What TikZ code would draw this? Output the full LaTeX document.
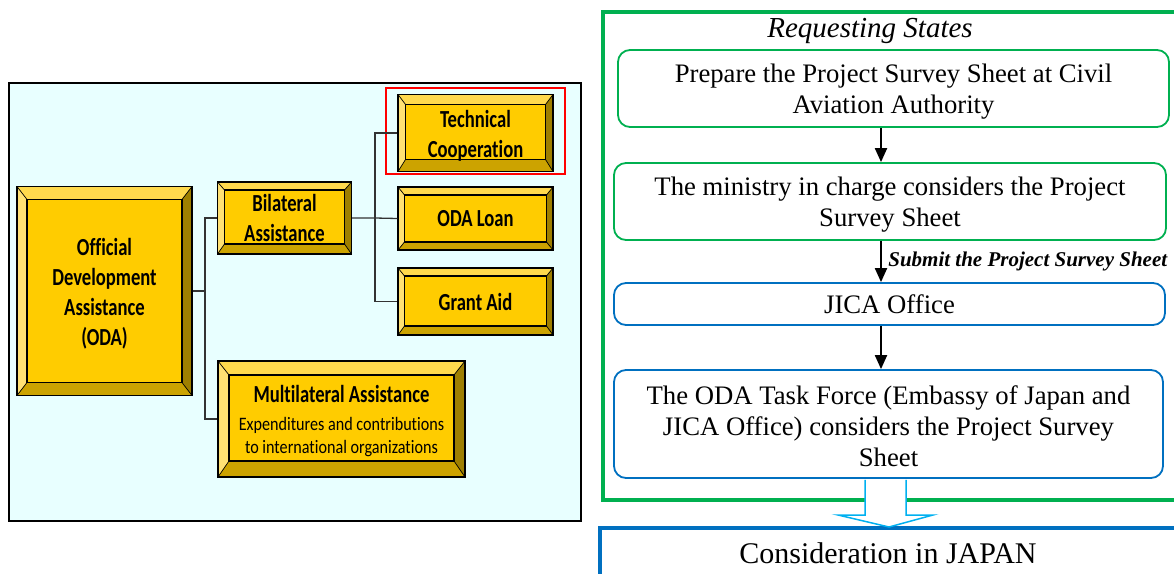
\documentclass[tikz,border=0pt]{standalone}
\usepackage{fontspec}
\setmainfont{Liberation Serif}
\newfontfamily\calib[FakeStretch=0.76,Ligatures=NoCommon]{Carlito}
\newfontfamily\calibs[FakeStretch=0.85,Ligatures=NoCommon]{Carlito}
\usetikzlibrary{arrows.meta,calc}

\definecolor{face}{HTML}{FFCC00}
\definecolor{btop}{HTML}{FFD94D}
\definecolor{bleft}{HTML}{FFE173}
\definecolor{bbot}{HTML}{CCA300}
\definecolor{bright}{HTML}{9E7F00}
\definecolor{panel}{HTML}{E8FFFF}
\definecolor{ogreen}{HTML}{00B050}
\definecolor{oblue}{HTML}{0070C0}
\definecolor{lblue}{HTML}{00B0F0}

\newcommand\topstrut{\rule{0pt}{24pt}}
\newcommand\bstrut{\rule{0pt}{22pt}}

\tikzset{
  bvs/.store in=\bvs, bvt/.store in=\bvt, bvb/.store in=\bvb,
  bvs=8pt, bvt=10pt, bvb=12pt,
  bevelbox/.style={draw=black, line width=1.2pt, fill=face, inner sep=0pt, align=center,
    font=\calib\bfseries\fontsize{24.5}{30}\selectfont,
    path picture={
      \path (path picture bounding box.north west) coordinate (pNW)
            (path picture bounding box.north east) coordinate (pNE)
            (path picture bounding box.south west) coordinate (pSW)
            (path picture bounding box.south east) coordinate (pSE);
      \coordinate (iNW) at ([shift={(\bvs,-\bvt)}]pNW);
      \coordinate (iNE) at ([shift={(-\bvs,-\bvt)}]pNE);
      \coordinate (iSW) at ([shift={(\bvs,\bvb)}]pSW);
      \coordinate (iSE) at ([shift={(-\bvs,\bvb)}]pSE);
      \fill[btop] (pNW) -- (pNE) -- (iNE) -- (iNW) -- cycle;
      \fill[bleft] (pNW) -- (iNW) -- (iSW) -- (pSW) -- cycle;
      \fill[bbot] (pSW) -- (iSW) -- (iSE) -- (pSE) -- cycle;
      \fill[bright] (pNE) -- (pSE) -- (iSE) -- (iNE) -- cycle;
      \draw[line width=1.6pt] (iNW) rectangle (iSE);
      \draw[line width=0.7pt] (pNW) -- (iNW) (pNE) -- (iNE) (pSW) -- (iSW) (pSE) -- (iSE);
    }},
  tree/.style={draw=black!80, line width=1.3pt},
  flow/.style={draw, line width=1.8pt, rounded corners=12pt, fill=white, align=center,
    inner sep=0pt, font=\fontsize{26.7}{31}\selectfont},
  arr/.style={line width=2pt, -{Triangle[length=14pt,width=12pt]}}
}

\begin{document}
\begin{tikzpicture}[x=1pt,y=-1pt]
\useasboundingbox (0,0) rectangle (1174,573);
\clip (0,0) rectangle (1174,573);

% ---------------- left panel ----------------
\node[draw=black, line width=2pt, fill=panel, minimum width=572pt, minimum height=438pt] (panel) at (295,302) {};

\node[bevelbox, bvs=10pt, bvt=13pt, bvb=13pt, minimum width=175pt, minimum height=209pt] (oda) at (104.5,291)
  {\bstrut Official\\Development\\Assistance\\(ODA)};
\node[bevelbox, bvs=7pt, bvt=8pt, bvb=10pt, minimum width=134pt, minimum height=72pt] (bil) at (284.5,218)
  {Bilateral\\Assistance};
\node[bevelbox, bvs=7.5pt, bvt=10pt, bvb=12pt, minimum width=155pt, minimum height=77pt] (tc) at (475.5,133)
  {\bstrut Technical\\Cooperation};
\node[bevelbox, bvs=6.5pt, bvt=8pt, bvb=8pt, minimum width=155pt, minimum height=63pt] (loan) at (475.5,218.5)
  {ODA Loan};
\node[bevelbox, bvs=6.5pt, bvt=8pt, bvb=9pt, minimum width=155pt, minimum height=67pt] (grant) at (475.5,301.5)
  {Grant Aid};
\node[bevelbox, bvs=11pt, bvt=14pt, bvb=16pt, minimum width=247pt, minimum height=116pt,
      font=\calibs\mdseries\fontsize{19}{23.5}\selectfont] (multi) at (341.5,419)
  {\bstrut{\calib\bfseries\fontsize{24.5}{24}\selectfont Multilateral Assistance}\\[4pt]Expenditures and contributions\\to international organizations};

\node[draw=red, line width=2pt, minimum width=179pt, minimum height=86pt, inner sep=0pt] (hl) at (475.5,131) {};

\coordinate (j1) at (205,291);
\coordinate (j2) at (375,218);
\draw[tree] (oda.east) -- (j1);
\draw[tree] (bil.west) -| (j1) |- (multi.west);
\draw[tree] (bil.east) -- (j2) -- (loan.west);
\draw[tree] (tc.west) -| (j2) |- (grant.west);

% ---------------- right panel ----------------
\node[draw=ogreen, line width=4pt, minimum width=582pt, minimum height=488pt, inner sep=0pt] (frame) at (894,256) {};
\node[font=\fontsize{29}{32}\selectfont\itshape] (rs) at (870,31) {Requesting States};

\node[flow, draw=ogreen, minimum width=551pt, minimum height=77pt] (b1) at (893.5,88.5)
  {\topstrut Prepare the Project Survey Sheet at Civil\\Aviation Authority};
\node[flow, draw=ogreen, minimum width=552pt, minimum height=77pt] (b2) at (890,201.5)
  {\topstrut The ministry in charge considers the Project\\Survey Sheet};
\node[flow, draw=oblue, minimum width=551pt, minimum height=42pt] (jica) at (889.5,304)
  {JICA Office};
\node[flow, draw=oblue, minimum width=549pt, minimum height=108pt] (b4) at (888.5,424)
  {\topstrut The ODA Task Force (Embassy of Japan and\\JICA Office) considers the Project Survey\\Sheet};

\coordinate (ax) at (881,0);
\draw[arr] (b1.south -| ax) -- (b2.north -| ax);
\draw[arr] (b2.south -| ax) -- (jica.north -| ax)
  node[midway, anchor=west, xshift=3pt, font=\fontsize{21}{24}\selectfont\bfseries\itshape] (sub) {Submit the Project Survey Sheet};
\draw[arr] (jica.south -| ax) -- (b4.north -| ax);

% bottom box
\node[draw=oblue, line width=4pt, minimum width=584pt, minimum height=50pt, inner sep=0pt] (japan) at (892,553) {};
\node[font=\fontsize{30}{32}\selectfont] (japantext) at (888,553) {Consideration in JAPAN};

% hollow block arrow
\fill[white] ([xshift=-24pt,yshift=-1pt]b4.south) -- (865,515) -- (838,515) -- (889,527) -- (933,515) -- (906,515) -- ([xshift=17pt,yshift=-1pt]b4.south) -- cycle;
\draw[lblue, line width=1.5pt] ([xshift=-23.5pt,yshift=-1pt]b4.south) -- (865,515) -- (838,515) -- (889,527) -- (933,515) -- (906,515) -- ([xshift=17.5pt,yshift=-1pt]b4.south);
\end{tikzpicture}
\end{document}
